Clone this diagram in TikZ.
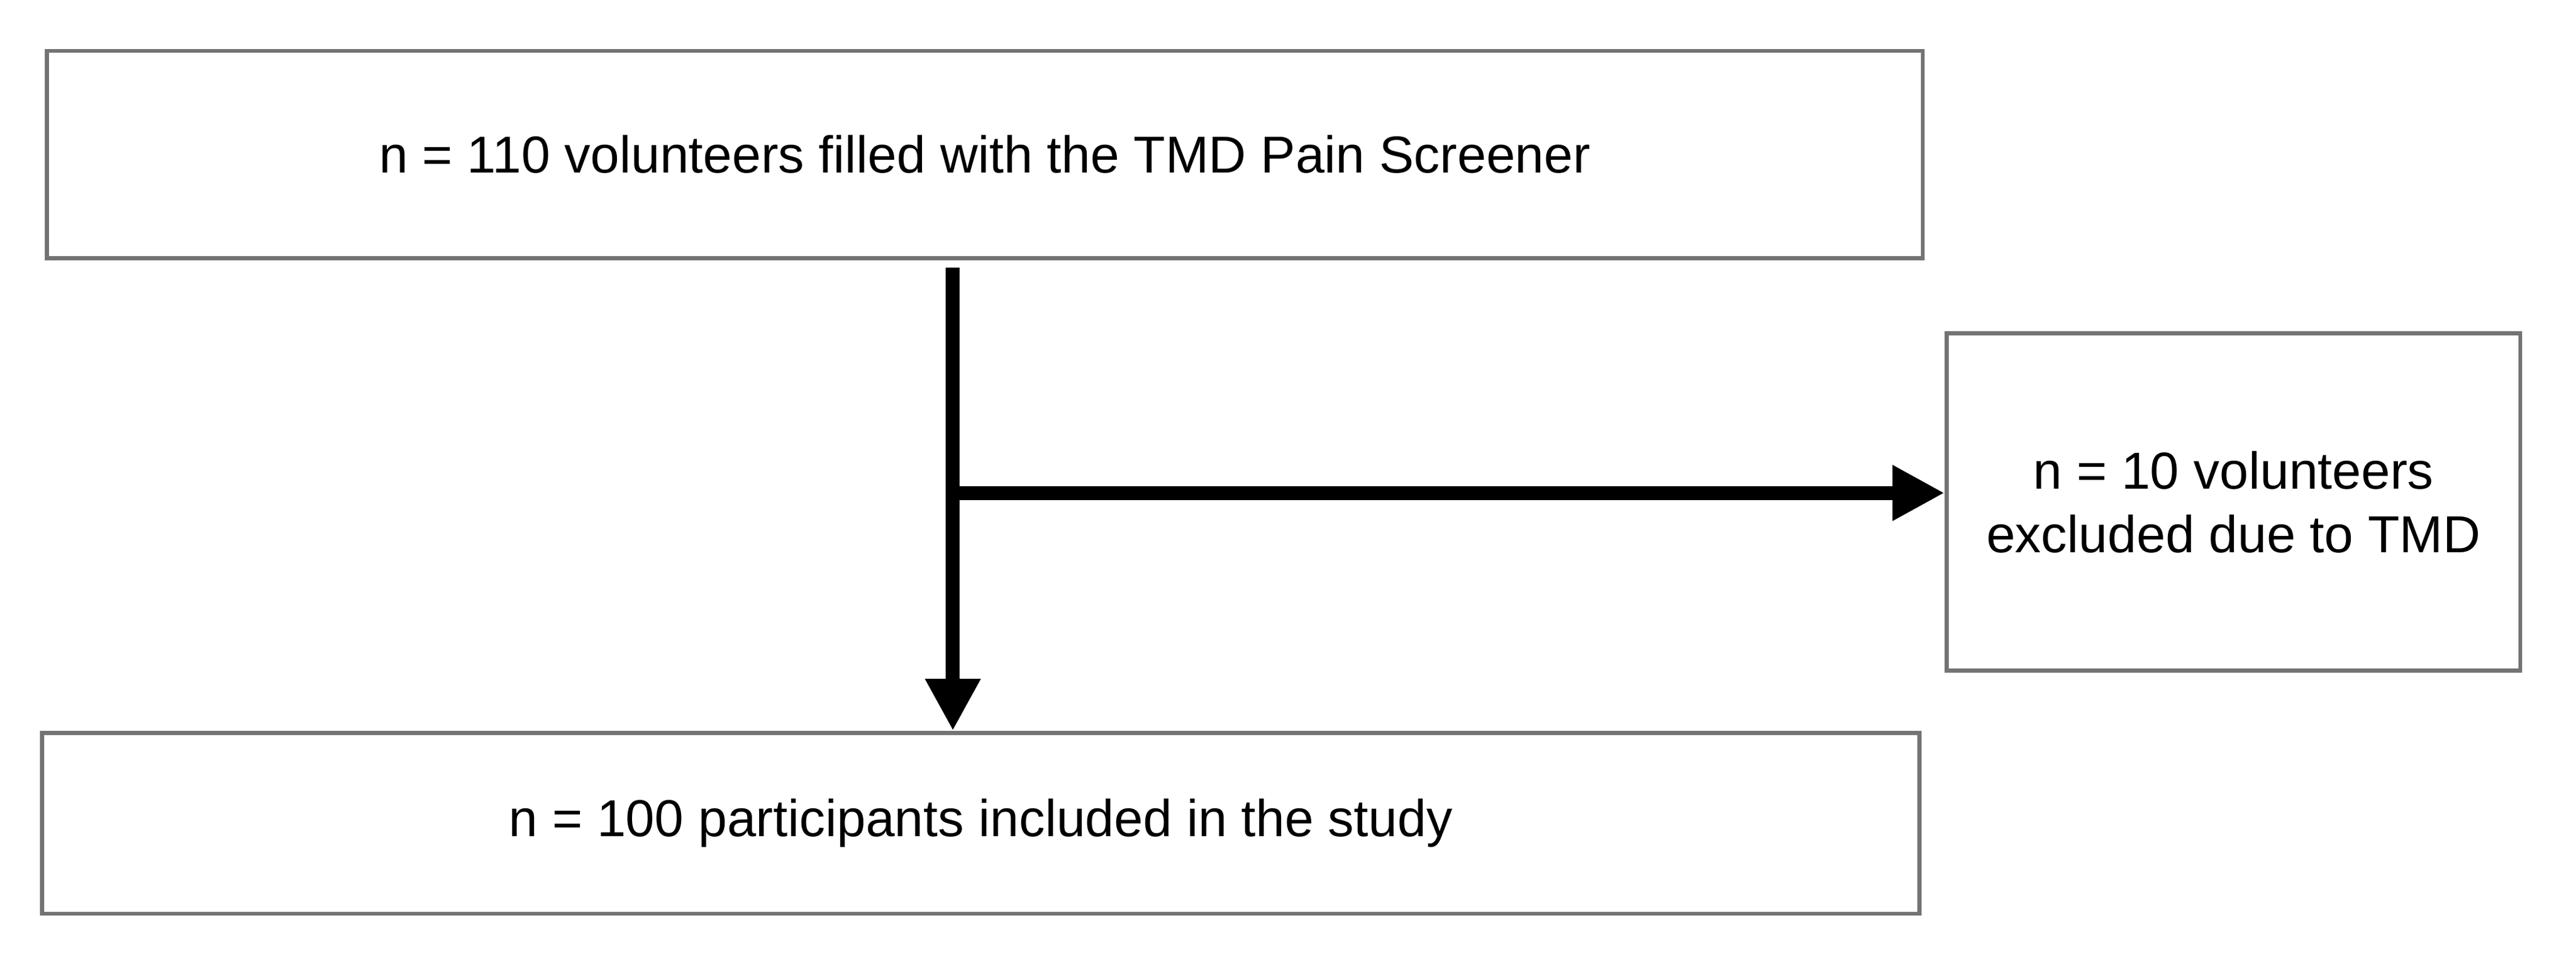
\documentclass[tikz,border=0pt]{standalone}
\usepackage{fontspec}
\setmainfont{Liberation Sans}
\usetikzlibrary{arrows.meta}
\begin{document}
\begin{tikzpicture}[x=0.01cm, y=-0.01cm,
    box/.style={draw=gray!90!black, line width=0.7pt, inner sep=0pt, align=center, font=\fontsize{9}{11}\selectfont},
    flow/.style={line width=2.4pt, -{Triangle[length=9pt, width=9pt]}}]
  \useasboundingbox (0,0) rectangle (1568,590);
  % boxes
  \node[box, minimum width=11.41cm, minimum height=1.26cm] (screen) at (599.5,94) {n = 110 volunteers filled with the TMD Pain Screener};
  \node[box, minimum width=3.49cm, minimum height=2.05cm] (excl) at (1359.5,305.5) {n = 10 volunteers\\excluded due to TMD};
  \node[box, minimum width=11.42cm, minimum height=1.10cm] (incl) at (597,501) {n = 100 participants included in the study};
  \coordinate (top) at (580,163);
  \coordinate (split) at (580,300);
  % arrows
  \draw[flow] (top) -- (incl.north -| top);
  \draw[flow] (split) -- (excl.west |- split);
\end{tikzpicture}
\end{document}
